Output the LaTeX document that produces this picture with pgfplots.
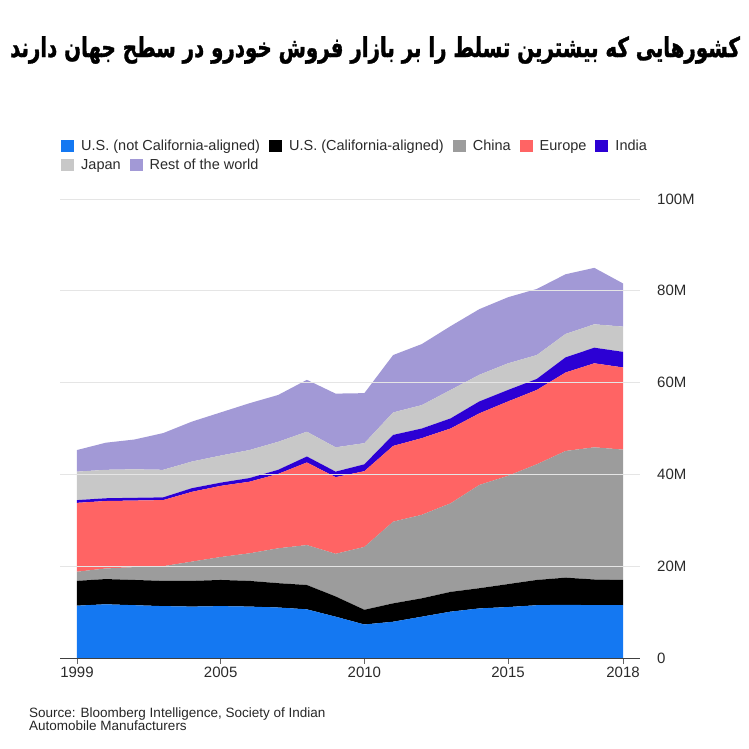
\documentclass[border=0pt]{standalone}
\usepackage{graphicx}
\usepackage{pgfplots}
\pgfplotsset{compat=1.18}
\usepackage{pgfplotstable}
\usepackage{fontspec}
\setmainfont{Liberation Sans}
\TeXXeTstate=1
\newfontfamily\arabicfont[Script=Arabic, FakeStretch=0.72, BoldFeatures={FakeBold=1.2}]{DejaVu Sans}
\definecolor{usblue}{HTML}{1478F2}
\definecolor{uscal}{HTML}{000000}
\definecolor{china}{HTML}{9C9C9C}
\definecolor{europe}{HTML}{FF6464}
\definecolor{india}{HTML}{2C00D4}
\definecolor{japan}{HTML}{C8C8C8}
\definecolor{rest}{HTML}{A299D6}
\definecolor{txt}{HTML}{2A2A2A}
\newcommand\sq[1]{\textcolor{#1}{\rule[-1.5pt]{13pt}{12.5pt}}}

\pgfplotstableread{
i  B    K    C    E    I    J    R
0  11.4 5.4  2.0  15.0 0.6  6.2  4.7
1  11.7 5.5  2.3  14.7 0.6  6.2  5.9
2  11.5 5.5  2.8  14.5 0.6  6.2  6.5
3  11.3 5.5  3.2  14.4 0.6  6.0  8.0
4  11.2 5.6  4.2  15.2 0.8  5.8  8.7
5  11.3 5.7  5.0  15.5 0.7  5.9  9.4
6  11.2 5.6  6.0  15.6 0.8  6.1  10.2
7  11.0 5.3  7.6  16.2 0.9  6.1  10.2
8  10.6 5.3  8.7  18.0 1.3  5.4  11.3
9  9.0  4.4  9.3  16.7 1.2  5.3  11.7
10 7.3  3.2  13.7 16.5 1.5  4.6  10.9
11 7.9  4.0  17.8 16.5 2.4  4.9  12.5
12 9.0  4.0  18.2 16.7 2.1  5.1  13.3
13 10.1 4.3  19.3 16.3 2.2  6.2  13.9
14 10.8 4.4  22.5 15.6 2.6  5.8  14.3
15 11.1 5.0  23.6 16.2 2.5  5.8  14.4
16 11.5 5.5  25.2 16.2 2.4  5.2  14.4
17 11.6 5.9  27.6 17.1 3.3  5.1  13.0
18 11.5 5.6  28.8 18.3 3.4  5.1  12.3
19 11.5 5.5  28.4 17.9 3.4  5.5  9.4
}\data

\begin{document}
\begin{tikzpicture}
\useasboundingbox (0pt,0pt) rectangle (749pt,749pt);
\node[anchor=center, inner sep=0, font=\arabicfont\bfseries\fontsize{27.5}{32}\selectfont] at (375pt,699pt) {\beginR کشورهایی که بیشترین تسلط را بر بازار فروش خودرو در سطح جهان دارند\endR};

\begin{axis}[
  at={(60pt,91pt)}, anchor=south west,
  scale only axis, width=580pt, height=459pt,
  xmin=-0.59, xmax=19.59, ymin=0, ymax=100,
  stack plots=y, area style,
  axis x line*=bottom, axis y line*=right,
  x axis line style={-, draw=black!75, line width=0.8pt},
  y axis line style={draw=none},
  xtick={0,5,10,15,19},
  xticklabels={1999,2005,2010,2015,2018},
  ytick={0,20,40,60,80,100},
  yticklabels={0,20M,40M,60M,80M,100M},
  ymajorgrids, grid style={draw=black!10, line width=0.6pt},
  tick align=outside, major tick length=6pt,
  xtick style={draw=black!60, line width=0.8pt},
  ytick style={draw=none},
  /pgf/number format/assume math mode=true,
  ticklabel style={font=\fontsize{15}{18}\selectfont, text=txt},
  yticklabel style={anchor=west, inner sep=0pt, xshift=11pt},
  xticklabel style={anchor=north, inner sep=0pt, yshift=-3pt},
]
\addplot[fill=usblue, draw=none] table[x=i, y=B]{\data} \closedcycle;
\addplot[fill=uscal, draw=none] table[x=i, y=K]{\data} \closedcycle;
\addplot[fill=china, draw=none] table[x=i, y=C]{\data} \closedcycle;
\addplot[fill=europe, draw=none] table[x=i, y=E]{\data} \closedcycle;
\addplot[fill=india, draw=none] table[x=i, y=I]{\data} \closedcycle;
\addplot[fill=japan, draw=none] table[x=i, y=J]{\data} \closedcycle;
\addplot[fill=rest, draw=none] table[x=i, y=R]{\data} \closedcycle;
\end{axis}

\node[anchor=base west, inner sep=0, font=\fontsize{14.5}{17}\selectfont, text=txt] at (61pt,598pt)
 {\sq{usblue}\hspace{7pt}U.S. (not California-aligned)\hspace{9pt}\sq{uscal}\hspace{7pt}U.S. (California-aligned)\hspace{9pt}\sq{china}\hspace{7pt}China\hspace{9pt}\sq{europe}\hspace{7pt}Europe\hspace{9pt}\sq{india}\hspace{7pt}India};
\node[anchor=base west, inner sep=0, font=\fontsize{14.5}{17}\selectfont, text=txt] at (61pt,579pt)
 {\sq{japan}\hspace{7pt}Japan\hspace{9pt}\sq{rest}\hspace{7pt}Rest of the world};

\node[anchor=north west, inner sep=0, align=left, font=\fontsize{13.5}{13}\selectfont, text=black!85] at (29pt,41pt)
 {Source: Bloomberg Intelligence, Society of Indian\\Automobile Manufacturers};
\end{tikzpicture}
\end{document}
